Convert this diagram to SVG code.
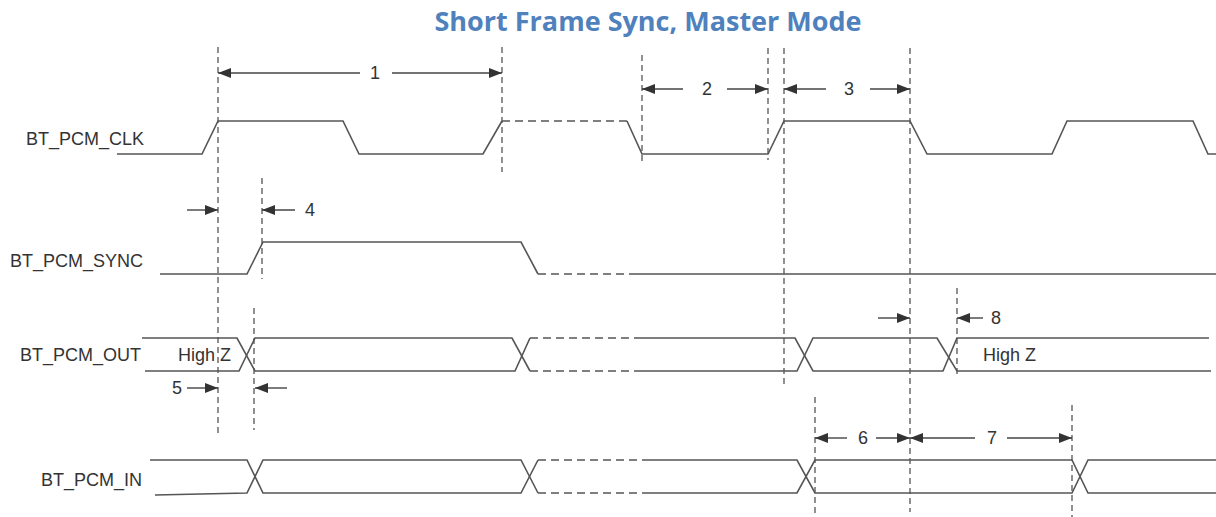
<svg xmlns="http://www.w3.org/2000/svg" width="1216" height="517" viewBox="0 0 1216 517">
<defs>
<marker id="ah" markerUnits="userSpaceOnUse" markerWidth="13" markerHeight="10" refX="13" refY="5" orient="auto">
<path d="M0,0 L13,5 L0,10 z" fill="#333"/>
</marker>
<style>
.sig{fill:none;stroke:#555;stroke-width:1.6;stroke-linejoin:miter}
.sigd{fill:none;stroke:#555;stroke-width:1.6;stroke-dasharray:8,5}
.guide{fill:none;stroke:#555;stroke-width:1.3;stroke-dasharray:6,4}
.dim{fill:none;stroke:#444;stroke-width:1.4;marker-end:url(#ah)}
.lbl{font-family:"Liberation Sans",Arial,sans-serif;font-size:18px;fill:#333}
.num{font-family:"Liberation Sans",Arial,sans-serif;font-size:18px;fill:#333}
.title{font-family:"Open Sans","Liberation Sans",sans-serif;font-size:27px;font-weight:700;fill:#4F81BD}
</style>
</defs>
<rect width="1216" height="517" fill="#ffffff"/>
<text class="title" x="648" y="31" text-anchor="middle">Short Frame Sync, Master Mode</text>

<g id="labels">
<text class="lbl" x="144" y="145" text-anchor="end">BT_PCM_CLK</text>
<text class="lbl" x="143" y="267" text-anchor="end">BT_PCM_SYNC</text>
<text class="lbl" x="141" y="361" text-anchor="end">BT_PCM_OUT</text>
<text class="lbl" x="142" y="486" text-anchor="end">BT_PCM_IN</text>
</g>

<g id="clk">
<polyline class="sig" points="117,154 202,154 218,121 343,121 359,154 483,154 502,121"/>
<line class="sigd" x1="502" y1="121" x2="627" y2="121"/>
<polyline class="sig" points="627,121 642,154 768,154 784,121 910,121 927,154 1052,154 1067,121 1193,121 1208,154 1216,154"/>
</g>

<g id="sync">
<polyline class="sig" points="160,274 247,274 263,242 521,242 538,274"/>
<line class="sigd" x1="538" y1="274" x2="632" y2="274"/>
<line class="sig" x1="632" y1="274" x2="1216" y2="274"/>
</g>

<g id="out">
<polyline class="sig" points="142,338 237,338 255,371 515,371 530,338"/>
<polyline class="sig" points="145,371 239,371 255,338 512,338 530,371"/>
<line class="sigd" x1="530" y1="338" x2="642" y2="338"/>
<line class="sigd" x1="530" y1="371" x2="642" y2="371"/>
<polyline class="sig" points="642,338 795,338 813,371 943,371 957,338 1209,338"/>
<polyline class="sig" points="642,371 797,371 813,338 937,338 957,371 1211,371"/>
<text class="lbl" x="178" y="361">High Z</text>
<text class="lbl" x="983" y="361">High Z</text>
</g>

<g id="in">
<polyline class="sig" points="150,460 247,460 263,493 521,493 538,460"/>
<polyline class="sig" points="155,495 247,493 263,460 521,460 538,493"/>
<line class="sigd" x1="538" y1="460" x2="648" y2="460"/>
<line class="sigd" x1="538" y1="493" x2="648" y2="493"/>
<polyline class="sig" points="648,460 797,460 815,493 1072,493 1088,460 1216,460"/>
<polyline class="sig" points="648,493 797,493 815,460 1072,460 1088,493 1216,493"/>
</g>

<g id="guides">
<line class="guide" x1="218" y1="47" x2="218" y2="433"/>
<line class="guide" x1="502" y1="47" x2="502" y2="172"/>
<line class="guide" x1="642" y1="55" x2="642" y2="162"/>
<line class="guide" x1="768" y1="48" x2="768" y2="160"/>
<line class="guide" x1="784" y1="48" x2="784" y2="388"/>
<line class="guide" x1="910" y1="48" x2="910" y2="512"/>
<line class="guide" x1="262" y1="178" x2="262" y2="279"/>
<line class="guide" x1="254" y1="308" x2="254" y2="430"/>
<line class="guide" x1="957" y1="288" x2="957" y2="378"/>
<line class="guide" x1="815" y1="397" x2="815" y2="517"/>
<line class="guide" x1="1072" y1="405" x2="1072" y2="517"/>
</g>

<g id="connectors">
<line class="dim" x1="360" y1="73" x2="218" y2="73"/>
<line class="dim" x1="392" y1="73" x2="502" y2="73"/>
<text class="num" x="375" y="79" text-anchor="middle">1</text>
<line class="dim" x1="683" y1="89" x2="642" y2="89"/>
<line class="dim" x1="727" y1="89" x2="768" y2="89"/>
<text class="num" x="707" y="95" text-anchor="middle">2</text>
<line class="dim" x1="826" y1="89" x2="784" y2="89"/>
<line class="dim" x1="870" y1="89" x2="910" y2="89"/>
<text class="num" x="849" y="95" text-anchor="middle">3</text>
<line class="dim" x1="187" y1="210" x2="218" y2="210"/>
<line class="dim" x1="295" y1="210" x2="262" y2="210"/>
<text class="num" x="310" y="216" text-anchor="middle">4</text>
<line class="dim" x1="187" y1="388" x2="218" y2="388"/>
<line class="dim" x1="287" y1="388" x2="255" y2="388"/>
<text class="num" x="177" y="394" text-anchor="middle">5</text>
<line class="dim" x1="847" y1="438" x2="815" y2="438"/>
<line class="dim" x1="876" y1="438" x2="910" y2="438"/>
<text class="num" x="863" y="444" text-anchor="middle">6</text>
<line class="dim" x1="975" y1="438" x2="910" y2="438"/>
<line class="dim" x1="1007" y1="438" x2="1072" y2="438"/>
<text class="num" x="992" y="444" text-anchor="middle">7</text>
<line class="dim" x1="878" y1="318" x2="910" y2="318"/>
<line class="dim" x1="983" y1="318" x2="957" y2="318"/>
<text class="num" x="996" y="324" text-anchor="middle">8</text>
</g>
</svg>
